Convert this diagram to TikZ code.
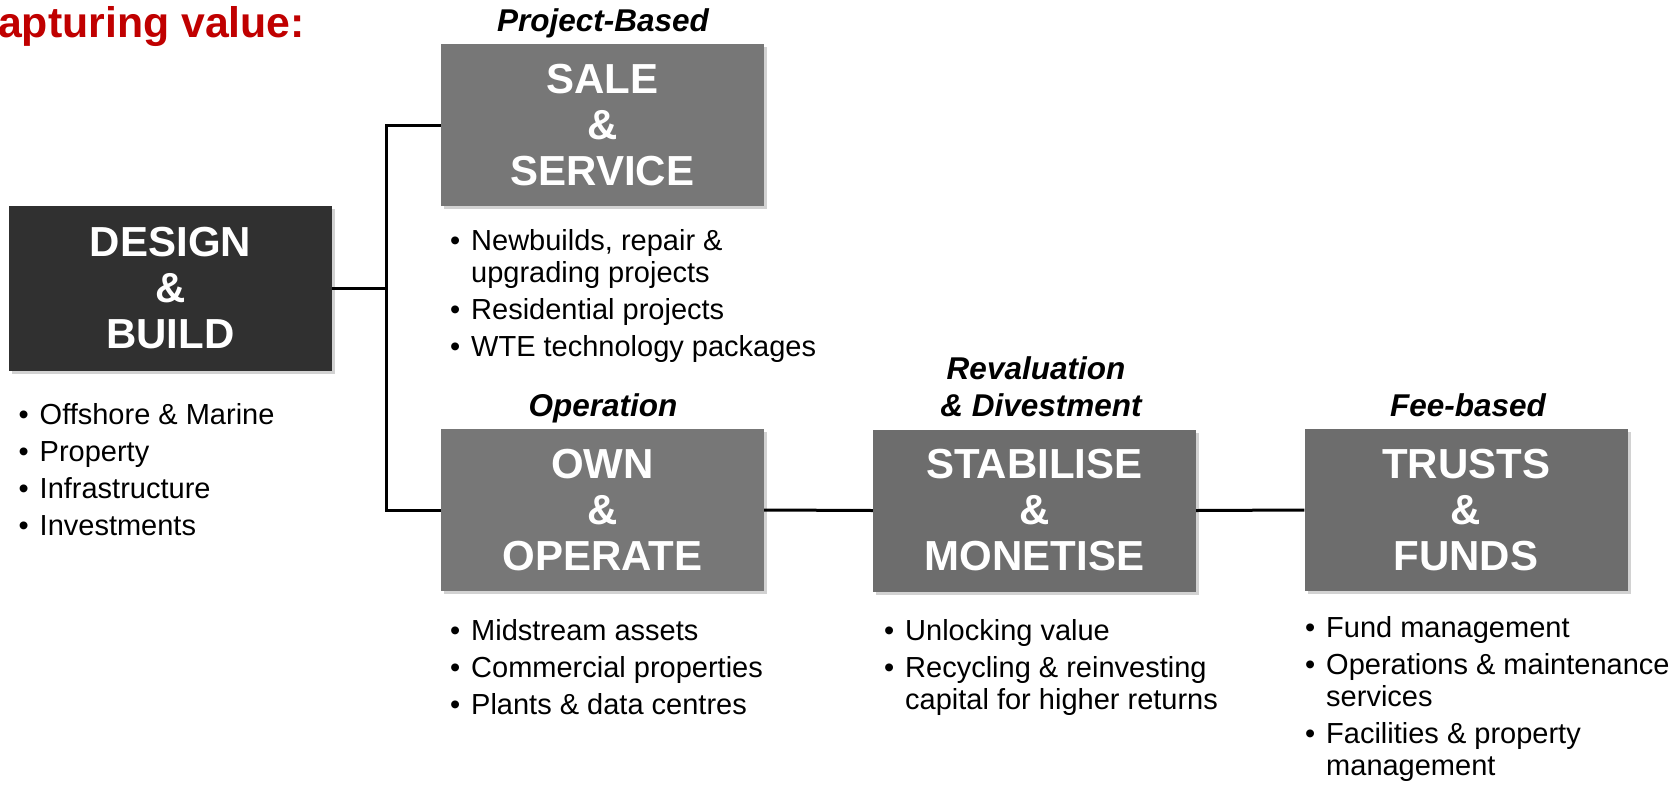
\documentclass[tikz,border=0pt]{standalone}
\usepackage{fontspec}
\setmainfont{Liberation Sans}
\usetikzlibrary{shadows}
\definecolor{titlered}{HTML}{C00000}
\definecolor{darkbox}{HTML}{303030}
\definecolor{lightbox}{HTML}{777777}
\definecolor{midbox}{HTML}{6D6D6D}
\newcommand{\bl}[1]{\makebox[21pt][l]{\textbullet}#1}
\newcommand{\ind}{\hspace*{21pt}}
\tikzset{
  box/.style={rectangle, minimum width=323pt, minimum height=162pt, inner sep=0pt,
    text=white, align=center, font=\fontsize{42}{46}\selectfont\bfseries,
    drop shadow={opacity=0.35, shadow xshift=3pt, shadow yshift=-3pt}},
  tag/.style={inner sep=0pt, anchor=base, font=\fontsize{31.5}{36}\selectfont\bfseries\itshape},
  blist/.style={inner sep=0pt, anchor=base west, align=left, font=\fontsize{29}{32}\selectfont},
  conn/.style={line width=3pt, black}
}
\begin{document}
\begin{tikzpicture}[x=1pt,y=1pt]
\useasboundingbox (0,0) rectangle (1675,-785);
\fill[white] (0,0) rectangle (1675,-785);

\node[inner sep=0pt, anchor=base west, text=titlered, font=\fontsize{42.8}{46}\selectfont\bfseries] (title) at (-2,-37) {apturing value:};

\node[box, fill=darkbox, minimum height=165pt] (design) at (170.5,-288.5) {DESIGN\\\&\\BUILD};
\node[box, fill=lightbox] (sale) at (602.5,-125) {SALE\\\&\\SERVICE};
\node[box, fill=lightbox] (own) at (602.5,-510) {OWN\\\&\\OPERATE};
\node[box, fill=midbox] (stab) at (1034.5,-510.5) {STABILISE\\\&\\MONETISE};
\node[box, fill=midbox] (trusts) at (1466,-510) {TRUSTS\\\&\\FUNDS};

\node[tag] (tproj) at (603,-31) {Project-Based};
\node[tag] (top) at (603,-416) {Operation};
\node[tag] (trev1) at (1036,-379) {Revaluation};
\node[tag] (trev2) at (1041,-416) {\& Divestment};
\node[tag] (tfee) at (1468,-416) {Fee-based};

\coordinate (j) at (386,0);
\draw[conn] (design.east) -- (design.east -| j);
\draw[conn] (sale.west) -| (j |- own.west) -- (own.west);
\draw[conn] (own.east) -- (stab.west);
\draw[conn] (stab.east) -- (trusts.west);

\node[blist] (ldesign) at (18.5,-424) {\begin{tabular}[t]{@{}l@{}}
\bl{Offshore \& Marine}\\[5pt]
\bl{Property}\\[5pt]
\bl{Infrastructure}\\[5pt]
\bl{Investments}
\end{tabular}};

\node[blist] (lsale) at (450,-250) {\begin{tabular}[t]{@{}l@{}}
\bl{Newbuilds, repair \&}\\
\ind upgrading projects\\[5pt]
\bl{Residential projects}\\[5pt]
\bl{WTE technology packages}
\end{tabular}};

\node[blist] (lown) at (450,-640) {\begin{tabular}[t]{@{}l@{}}
\bl{Midstream assets}\\[5pt]
\bl{Commercial properties}\\[5pt]
\bl{Plants \& data centres}
\end{tabular}};

\node[blist] (lstab) at (884,-640) {\begin{tabular}[t]{@{}l@{}}
\bl{Unlocking value}\\[5pt]
\bl{Recycling \& reinvesting}\\
\ind capital for higher returns
\end{tabular}};

\node[blist] (ltrusts) at (1305,-637) {\begin{tabular}[t]{@{}l@{}}
\bl{Fund management}\\[5pt]
\bl{Operations \& maintenance}\\
\ind services\\[5pt]
\bl{Facilities \& property}\\
\ind management
\end{tabular}};
\end{tikzpicture}
\end{document}
